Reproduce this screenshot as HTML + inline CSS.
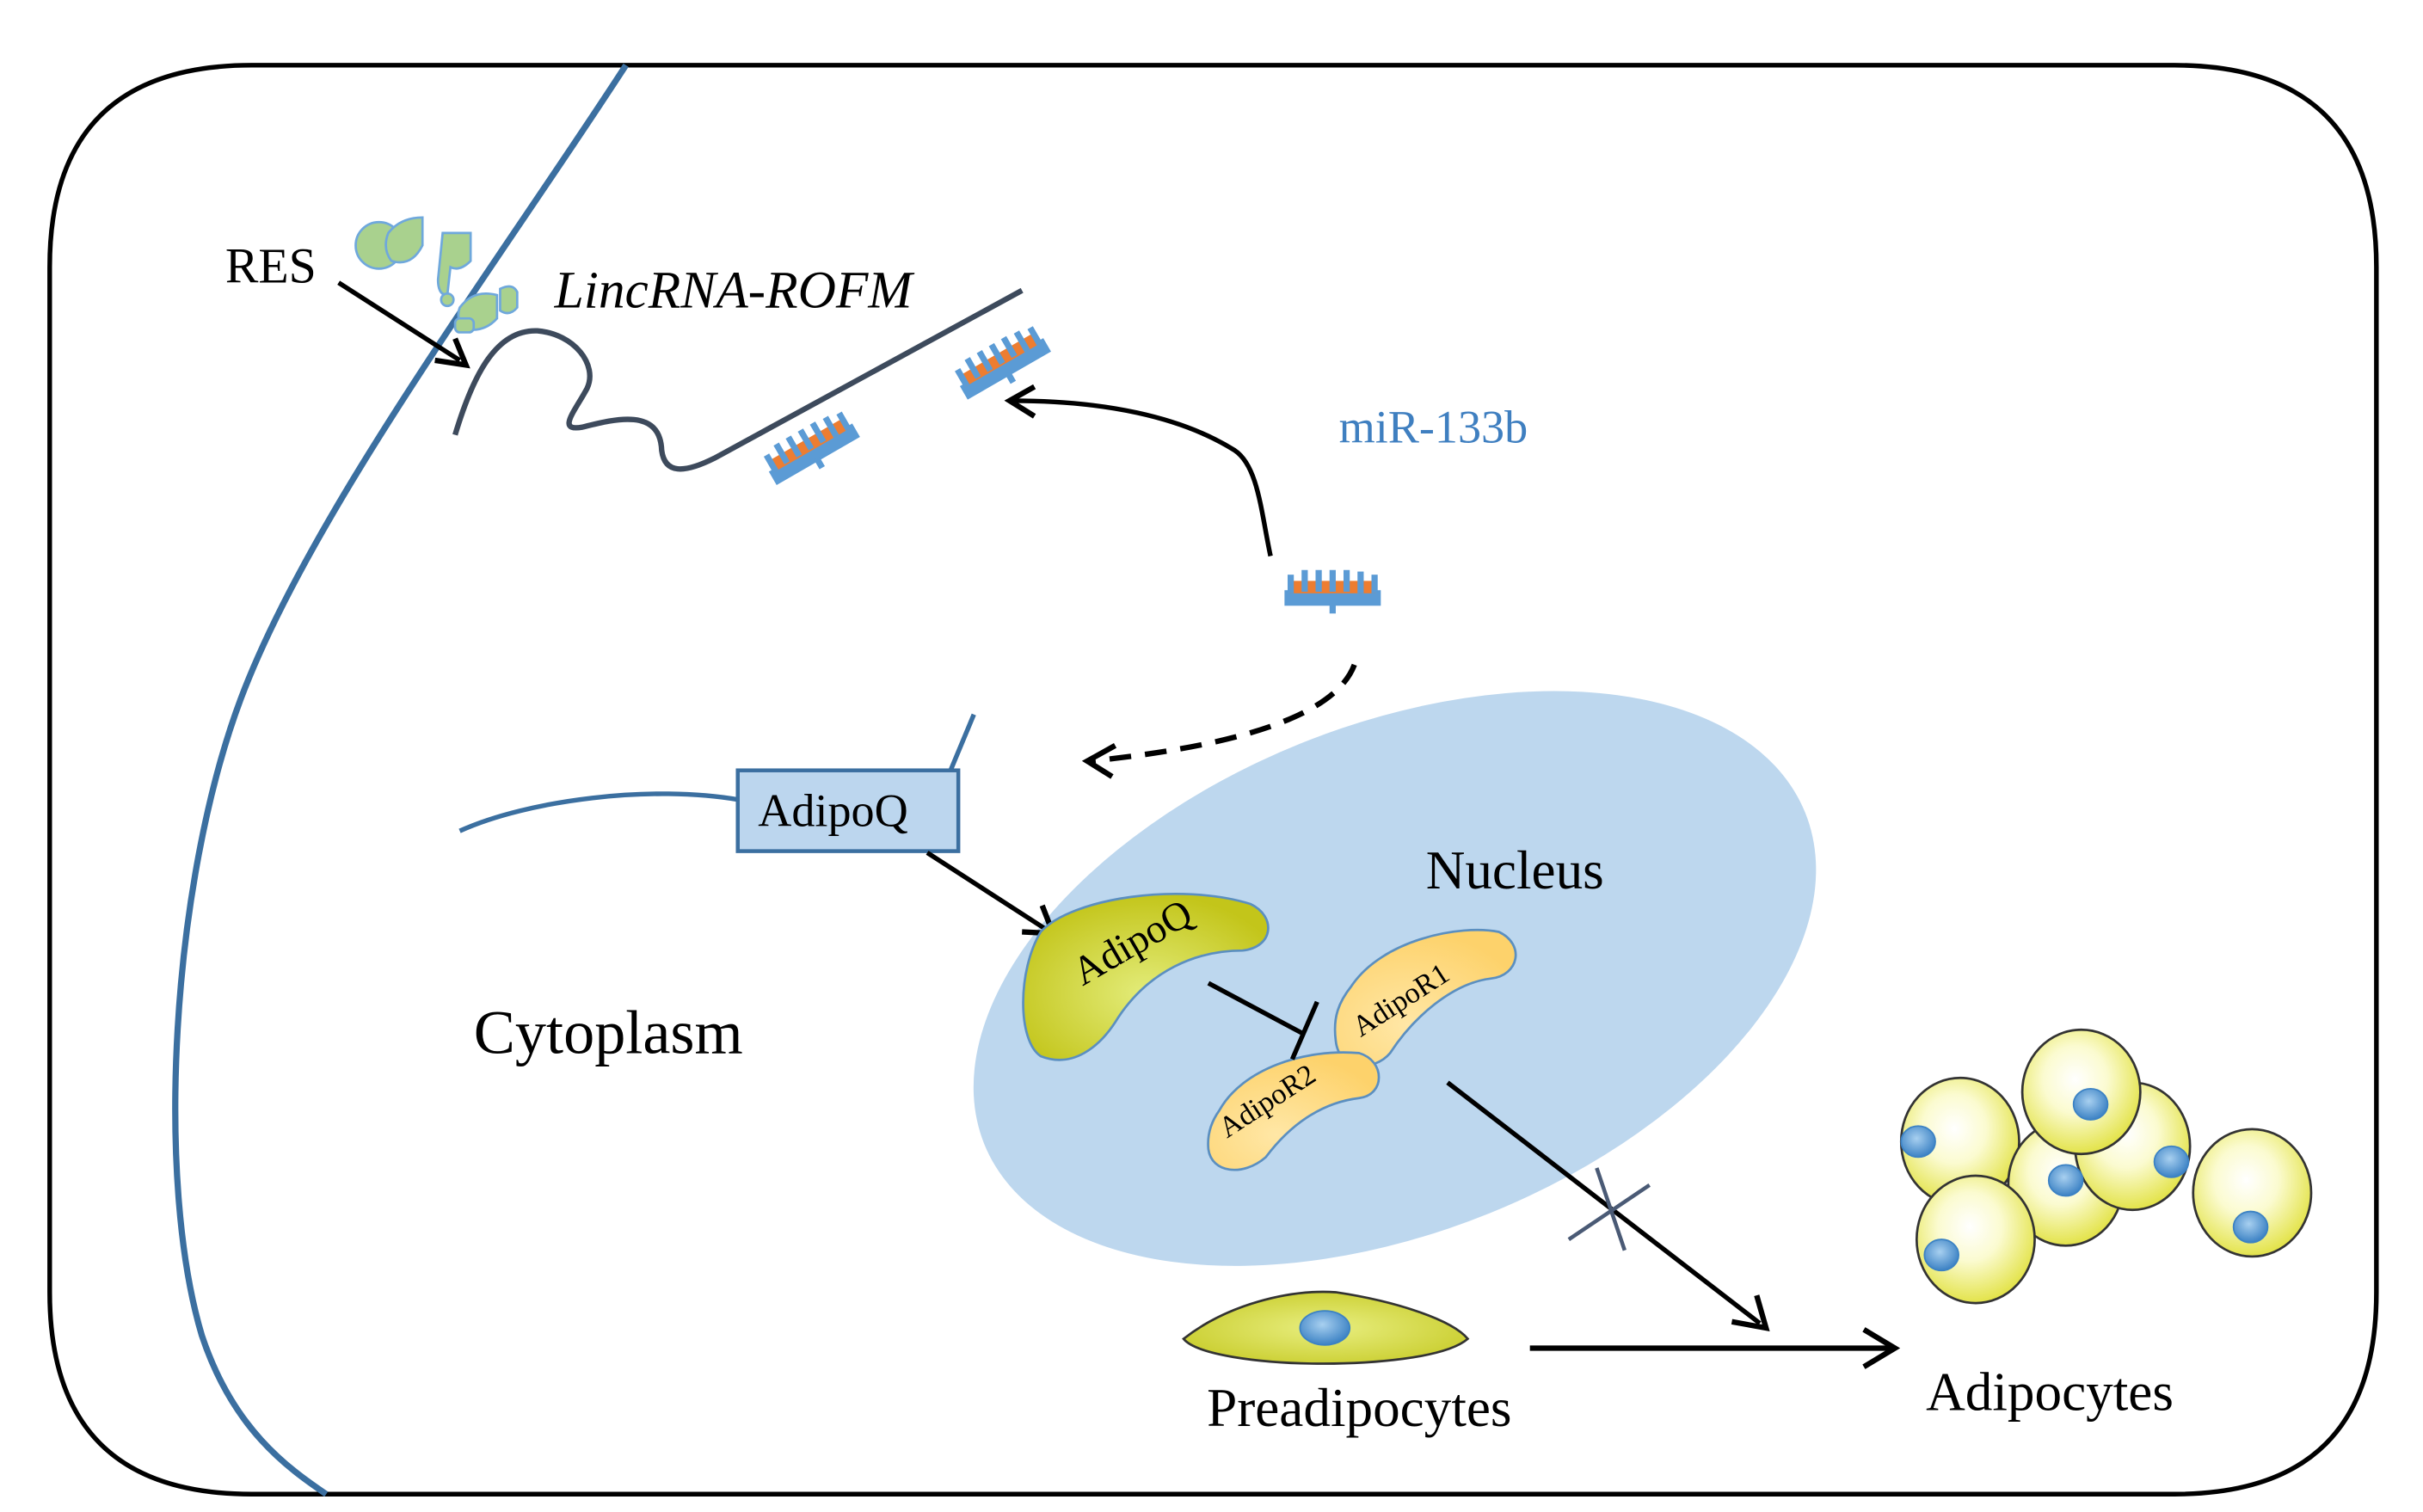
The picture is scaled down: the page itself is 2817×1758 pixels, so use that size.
<!DOCTYPE html>
<html><head><meta charset="utf-8"><style>
html,body{margin:0;padding:0;background:#fff;}
svg{display:block;}
text{font-family:"Liberation Serif",serif;}
</style></head><body>
<svg width="2817" height="1758" viewBox="0 0 1560 973.5" preserveAspectRatio="none" xmlns="http://www.w3.org/2000/svg">
<defs>
<radialGradient id="gq" cx="0.5" cy="0.6" r="0.6"><stop offset="0" stop-color="#e3ec7a"/><stop offset="1" stop-color="#c3c51a"/></radialGradient>
<radialGradient id="gr" cx="0.4" cy="0.7" r="0.7"><stop offset="0" stop-color="#ffe7a6"/><stop offset="1" stop-color="#fdd26b"/></radialGradient>
<radialGradient id="gc" cx="0.45" cy="0.4" r="0.6"><stop offset="0" stop-color="#ffffff"/><stop offset="0.45" stop-color="#fbfbd0"/><stop offset="1" stop-color="#e3e34a"/></radialGradient>
<radialGradient id="gp" cx="0.5" cy="0.5" r="0.6"><stop offset="0" stop-color="#e8ee80"/><stop offset="1" stop-color="#c8cc2a"/></radialGradient>
<radialGradient id="gn" cx="0.45" cy="0.4" r="0.6"><stop offset="0" stop-color="#a8d0f0"/><stop offset="1" stop-color="#3c82c4"/></radialGradient>
<g id="comb">
<rect x="0" y="10" width="62" height="10" fill="#5b9bd5"/>
<rect x="3" y="4" width="56" height="8" fill="#ed7d31"/>
<g fill="#5b9bd5">
<rect x="2" y="0" width="4" height="12"/><rect x="11" y="-3" width="4" height="14"/><rect x="20" y="-3" width="4" height="14"/><rect x="29" y="-3" width="4" height="14"/><rect x="38" y="-3" width="4" height="14"/><rect x="47" y="-2" width="4" height="14"/><rect x="56" y="0" width="4" height="12"/>
<rect x="29" y="18" width="4" height="7"/>
</g>
</g>
</defs>

<path d="M162,42 H1400 Q1530,42 1530,172 V832 Q1530,962 1400,962 H162 Q32,962 32,832 V172 Q32,42 162,42 Z" fill="none" stroke="#000" stroke-width="3"/>

<path d="M403,42 C320,170 200,330 155,450 C110,570 100,760 130,860 C150,920 185,945 210,962" fill="none" stroke="#3b6fa0" stroke-width="4"/>

<ellipse cx="898" cy="630" rx="285" ry="163" transform="rotate(-22 898 630)" fill="#bdd7ee"/>

<text x="145" y="182" font-size="32">RES</text>
<path d="M218,182 L296,232" stroke="#000" stroke-width="3" fill="none"/>
<path d="M280,232 L300,235 L293,218" stroke="#000" stroke-width="3.5" fill="none"/>

<g fill="#a9d18e" stroke="#6fa8dc" stroke-width="1.5">
<circle cx="244" cy="158" r="15"/>
<path d="M250,150 Q258,140 272,140 L272,158 Q265,172 252,168 Q246,160 250,150Z"/>
<path d="M285,150 L303,150 L303,168 Q296,175 290,172 L288,190 Q282,190 282,180 Z"/>
<circle cx="288" cy="193" r="4"/>
<path d="M296,198 Q305,186 320,190 L320,205 Q312,214 300,212 Q293,206 296,198Z"/>
<path d="M322,186 Q330,182 333,188 L333,198 Q328,204 322,200Z"/>
<rect x="293" y="205" width="12" height="9" rx="3"/>
</g>

<text x="357" y="198" font-size="34" font-style="italic">LincRNA-ROFM</text>

<path d="M293,280 C305,240 320,212 346,213 C370,215 385,235 378,250 C370,265 358,278 375,275 C395,270 425,262 426,290 C428,305 440,305 460,295 L658,187" fill="none" stroke="#3d4a5c" stroke-width="3.5"/>

<use href="#comb" transform="translate(490,295) rotate(-30)"/>
<use href="#comb" transform="translate(613,240) rotate(-30)"/>
<use href="#comb" transform="translate(827,370)"/>

<text x="862" y="285" font-size="30" fill="#3f7fc0">miR-133b</text>

<path d="M818,358 C812,330 810,300 795,290 C760,268 710,258 652,258" fill="none" stroke="#000" stroke-width="3"/>
<path d="M666,249 L650,258 L666,268" fill="none" stroke="#000" stroke-width="3.5"/>

<path d="M872,428 C860,460 800,480 702,490" fill="none" stroke="#000" stroke-width="3.5" stroke-dasharray="14,9"/>
<path d="M718,480 L700,490 L716,500" fill="none" stroke="#000" stroke-width="3.5"/>

<path d="M296,535 C340,515 420,505 476,515" fill="none" stroke="#3b6fa0" stroke-width="3"/>
<path d="M612,496 L627,460" fill="none" stroke="#3b6fa0" stroke-width="3"/>
<rect x="475" y="496" width="142" height="52" fill="#bcd6ee" stroke="#3b6fa0" stroke-width="2.5"/>
<text x="488" y="532" font-size="30">AdipoQ</text>

<path d="M597,549 L676,600" stroke="#000" stroke-width="3" fill="none"/>
<path d="M658,600 L678,601 L671,583" stroke="#000" stroke-width="3.5" fill="none"/>

<text x="305" y="678" font-size="40">Cytoplasm</text>
<text x="918" y="572" font-size="35">Nucleus</text>

<path d="M670,600 C690,578 760,568 805,582 C822,590 820,610 800,612 C770,612 740,625 720,655 C708,675 690,688 670,680 C655,670 655,625 670,600 Z" fill="url(#gq)" stroke="#5b8fc0" stroke-width="1.5"/>
<text x="0" y="0" font-size="26" transform="translate(697,635) rotate(-30)">AdipoQ</text>
<path d="M870,635 C890,605 940,595 965,600 C982,608 978,628 960,630 C935,633 910,655 895,678 C885,690 862,690 860,670 C858,655 862,645 870,635 Z" fill="url(#gr)" stroke="#5b8fc0" stroke-width="1.5"/>
<text x="0" y="0" font-size="19" transform="translate(876,668) rotate(-33)">AdipoR1</text>
<path d="M785,715 C800,688 840,675 875,678 C892,683 892,705 875,707 C850,710 830,725 815,745 C800,758 780,755 778,740 C777,730 780,722 785,715 Z" fill="url(#gr)" stroke="#5b8fc0" stroke-width="1.5"/>
<text x="0" y="0" font-size="19" transform="translate(790,733) rotate(-33)">AdipoR2</text>

<path d="M778,633 L838,665" stroke="#000" stroke-width="3"/>
<path d="M848,645 L832,682" stroke="#000" stroke-width="3"/>

<path d="M932,697 L1133,852" stroke="#000" stroke-width="3"/>
<path d="M1115,851 L1137,855 L1131,834" stroke="#000" stroke-width="3.5" fill="none"/>
<path d="M1010,798 L1062,763 M1028,752 L1046,805" stroke="#4a5a75" stroke-width="2.5"/>

<path d="M762,862 C790,840 830,830 860,832 C900,838 935,850 945,862 C930,875 880,878 852,878 C810,878 770,872 762,862 Z" fill="url(#gp)" stroke="#333" stroke-width="1.5"/>
<ellipse cx="853" cy="855" rx="16" ry="11" fill="url(#gn)" stroke="#3c82c4"/>
<path d="M985,868 L1217,868" stroke="#000" stroke-width="3.5"/>
<path d="M1200,856 L1220,868 L1200,880" stroke="#000" stroke-width="3.5" fill="none"/>

<text x="777" y="918" font-size="35">Preadipocytes</text>
<text x="1240" y="908" font-size="35">Adipocytes</text>

<g stroke="#333" stroke-width="1.5">
<ellipse cx="1262" cy="735" rx="38" ry="41" fill="url(#gc)"/>
<ellipse cx="1330" cy="762" rx="37" ry="40" fill="url(#gc)"/>
<ellipse cx="1373" cy="738" rx="37" ry="41" fill="url(#gc)"/>
<ellipse cx="1340" cy="703" rx="38" ry="40" fill="url(#gc)"/>
<ellipse cx="1272" cy="798" rx="38" ry="41" fill="url(#gc)"/>
<ellipse cx="1450" cy="768" rx="38" ry="41" fill="url(#gc)"/>
</g>
<g fill="url(#gn)" stroke="#3c82c4">
<ellipse cx="1235" cy="735" rx="11" ry="10"/>
<ellipse cx="1330" cy="760" rx="11" ry="10"/>
<ellipse cx="1398" cy="748" rx="11" ry="10"/>
<ellipse cx="1346" cy="711" rx="11" ry="10"/>
<ellipse cx="1250" cy="808" rx="11" ry="10"/>
<ellipse cx="1449" cy="790" rx="11" ry="10"/>
</g>
</svg>
</body></html>
